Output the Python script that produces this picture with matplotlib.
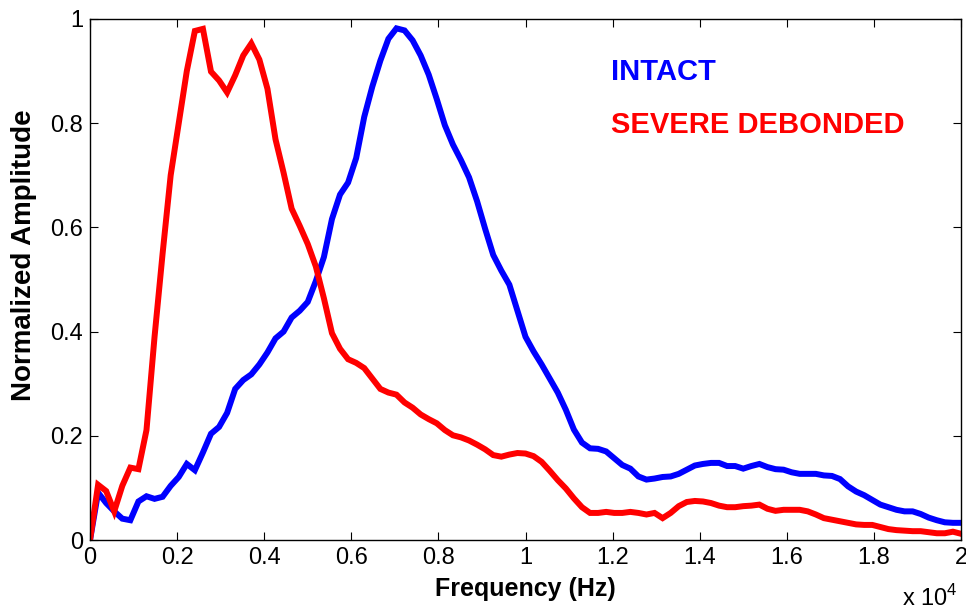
import numpy as np
import matplotlib
matplotlib.use("Agg")
import matplotlib.pyplot as plt

# normalized spectra (0 .. 20 kHz, 109 samples)
intact = [0, 0.091, 0.071, 0.055, 0.041, 0.038, 0.074, 0.084, 0.079, 0.083,
          0.104, 0.121, 0.146, 0.134, 0.168, 0.204, 0.217, 0.244, 0.29, 0.307,
          0.318, 0.337, 0.36, 0.387, 0.40, 0.427, 0.44, 0.457, 0.497, 0.543,
          0.616, 0.663, 0.686, 0.733, 0.812, 0.87, 0.92, 0.962, 0.982, 0.978,
          0.959, 0.93, 0.893, 0.846, 0.796, 0.759, 0.729, 0.696, 0.65, 0.597,
          0.547, 0.517, 0.49, 0.44, 0.39, 0.362, 0.337, 0.31, 0.283, 0.25,
          0.212, 0.187, 0.176, 0.175, 0.17, 0.157, 0.144, 0.137, 0.122, 0.116,
          0.118, 0.121, 0.122, 0.127, 0.135, 0.143, 0.146, 0.148, 0.148, 0.142,
          0.142, 0.137, 0.142, 0.146, 0.14, 0.136, 0.135, 0.13, 0.127, 0.127,
          0.127, 0.124, 0.123, 0.117, 0.103, 0.093, 0.086, 0.077, 0.068, 0.063,
          0.058, 0.055, 0.055, 0.05, 0.043, 0.038, 0.034, 0.033, 0.033]

debonded = [0, 0.106, 0.094, 0.055, 0.104, 0.139, 0.136, 0.211, 0.39, 0.55,
            0.70, 0.80, 0.90, 0.977, 0.981, 0.899, 0.882, 0.859, 0.892, 0.93,
            0.953, 0.922, 0.866, 0.769, 0.705, 0.636, 0.603, 0.568, 0.525, 0.464,
            0.397, 0.367, 0.347, 0.34, 0.33, 0.31, 0.29, 0.283, 0.279, 0.264,
            0.254, 0.241, 0.232, 0.224, 0.211, 0.201, 0.197, 0.191, 0.183, 0.174,
            0.163, 0.16, 0.164, 0.167, 0.166, 0.161, 0.15, 0.133, 0.115, 0.099,
            0.08, 0.063, 0.052, 0.052, 0.054, 0.052, 0.052, 0.054, 0.052, 0.049,
            0.052, 0.042, 0.052, 0.065, 0.073, 0.075, 0.074, 0.071, 0.066, 0.063,
            0.063, 0.065, 0.066, 0.068, 0.06, 0.056, 0.058, 0.058, 0.058, 0.055,
            0.049, 0.042, 0.039, 0.036, 0.033, 0.03, 0.029, 0.029, 0.025, 0.021,
            0.019, 0.018, 0.017, 0.017, 0.015, 0.013, 0.013, 0.016, 0.012]

freq = np.linspace(0, 20000, len(intact))

xticks = [0, 2000, 4000, 6000, 8000, 10000, 12000, 14000, 16000, 18000, 20000]
xticklabels = ['0', '0.2', '0.4', '0.6', '0.8', '1', '1.2', '1.4', '1.6', '1.8', '2']
yticks = [0, 0.2, 0.4, 0.6, 0.8, 1]
yticklabels = ['0', '0.2', '0.4', '0.6', '0.8', '1']

plt.rcParams['font.family'] = ['Liberation Sans', 'DejaVu Sans']
plt.rcParams['mathtext.fontset'] = 'custom'
plt.rcParams['mathtext.rm'] = 'Liberation Sans'
plt.rcParams['xtick.direction'] = 'in'
plt.rcParams['ytick.direction'] = 'in'

fig = plt.figure(figsize=(9.66, 6.12), dpi=100)
ax = fig.add_axes([0.0932, 0.1176, 0.9016, 0.8514])

ax.plot(freq, intact, color=(0, 0, 1), lw=4.3, solid_joinstyle='miter')
ax.plot(freq, debonded, color=(1, 0, 0), lw=4.3, solid_joinstyle='miter')

ax.set_xlim(0, 20000)
ax.set_ylim(0, 1)
ax.set_xticks(xticks)
ax.set_xticklabels(xticklabels)
ax.set_yticks(yticks)
ax.set_yticklabels(yticklabels)
ax.tick_params(top=True, right=True, length=6, width=0.8, labelsize=17)
ax.tick_params(axis='x', pad=5)
ax.tick_params(axis='y', pad=5)
for s in ax.spines.values():
    s.set_linewidth(1.0)

ax.set_xlabel('Frequency (Hz)', fontsize=18, fontweight='bold', labelpad=6)
ax.set_ylabel('Normalized Amplitude', fontsize=20, fontweight='bold')
ax.yaxis.set_label_coords(-0.061, 0.547)

ax.text(0.598, 0.898, 'INTACT', color=(0, 0, 1), fontsize=21, fontweight='bold',
        va='center', ha='left', transform=ax.transAxes)
ax.text(0.598, 0.797, 'SEVERE DEBONDED', color=(1, 0, 0), fontsize=21,
        fontweight='bold', va='center', ha='left', transform=ax.transAxes)

fig.text(902 / 966, 1 - 606 / 612, r'x 10$^{\mathrm{4}}$', fontsize=17,
         va='baseline', ha='left')

fig.savefig('out.png', dpi=100)
